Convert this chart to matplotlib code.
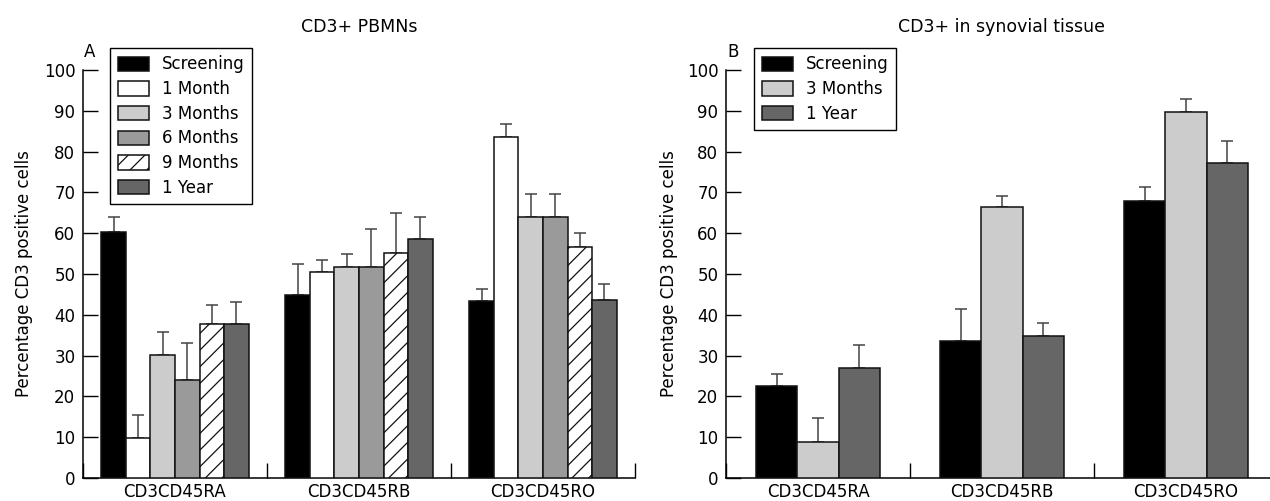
import matplotlib
matplotlib.use("Agg")
import matplotlib.pyplot as plt
import numpy as np

plt.rcParams['font.family'] = ['DejaVu Sans']

groups = ["CD3CD45RA", "CD3CD45RB", "CD3CD45RO"]

# Panel A: CD3+ PBMNs
series_a = ["Screening", "1 Month", "3 Months", "6 Months", "9 Months", "1 Year"]
screening_a = [60.4, 44.9, 43.5]
month1_a = [9.9, 50.5, 83.5]
month3_a = [30.1, 51.6, 64.0]
month6_a = [24.1, 51.6, 64.0]
month9_a = [37.7, 55.2, 56.6]
year1_a = [37.7, 58.5, 43.6]
err_screening_a = [3.5, 7.6, 2.9]
err_month1_a = [5.5, 2.9, 3.2]
err_month3_a = [5.8, 3.3, 5.5]
err_month6_a = [8.9, 9.4, 5.5]
err_month9_a = [4.6, 9.7, 3.5]
err_year1_a = [5.4, 5.5, 3.9]

# Panel B: CD3+ in synovial tissue
series_b = ["Screening", "3 Months", "1 Year"]
screening_b = [22.5, 33.7, 67.8]
month3_b = [8.9, 66.3, 89.6]
year1_b = [27.0, 34.8, 77.3]
err_screening_b = [3.1, 7.8, 3.5]
err_month3_b = [5.7, 2.7, 3.2]
err_year1_b = [5.6, 3.3, 5.2]

yticks = [0, 10, 20, 30, 40, 50, 60, 70, 80, 90, 100]

styles = {
    "Screening": dict(color="#000000", hatch=None),
    "1 Month": dict(color="#ffffff", hatch=None),
    "3 Months": dict(color="#cccccc", hatch=None),
    "6 Months": dict(color="#9a9a9a", hatch=None),
    "9 Months": dict(color="#ffffff", hatch="//"),
    "1 Year": dict(color="#666666", hatch=None),
}

W, H = 1270, 501
fig = plt.figure(figsize=(W / 100, H / 100), dpi=100)

ax_bottom = (H - 478) / H
ax_height = 408 / H
ax_a = fig.add_axes([83 / W, ax_bottom, 552 / W, ax_height])
ax_b = fig.add_axes([726 / W, ax_bottom, 552 / W, ax_height])

plt.rcParams['hatch.linewidth'] = 0.9


def draw(ax, names, vals, errs, total_width, legend_x, letter, title, title_x, ylabel_x):
    n = len(names)
    bw = total_width / n
    centers = np.arange(len(groups)) + 0.5
    handles = []
    for i, (name, v, e) in enumerate(zip(names, vals, errs)):
        xs = centers - total_width / 2 + bw * (i + 0.5)
        st = styles[name]
        b = ax.bar(xs, v, width=bw, color=st["color"], edgecolor="#111111",
                   linewidth=1.1, hatch=st["hatch"], label=name, zorder=3)
        ax.errorbar(xs, v, yerr=[np.zeros(len(v)), e], fmt="none",
                    ecolor="#444444", elinewidth=1.1, capsize=4.5,
                    capthick=1.1, zorder=2)
        handles.append(b)
    ax.set_xlim(0, 3)
    ax.set_ylim(0, 100)
    ax.set_yticks(yticks)
    ax.set_yticklabels([str(t) for t in yticks], fontsize=12)
    ax.set_xticks([0, 1, 2, 3])
    ax.set_xticklabels([])
    ax.set_xticks(centers, minor=True)
    ax.set_xticklabels(groups, minor=True, fontsize=12)
    ax.tick_params(axis="y", direction="in", length=11, width=1, pad=5.5)
    ax.tick_params(axis="x", which="major", direction="in", length=11, width=1)
    ax.tick_params(axis="x", which="minor", length=0, pad=3.5)
    for s in ["top", "right"]:
        ax.spines[s].set_visible(False)
    for s in ["left", "bottom"]:
        ax.spines[s].set_linewidth(1.1)
    leg = ax.legend(handles=handles, loc="upper left",
                    bbox_to_anchor=(legend_x, 1.054), borderaxespad=0,
                    fontsize=12, frameon=True, fancybox=False,
                    edgecolor="#000000", framealpha=1, borderpad=0.45,
                    labelspacing=0.4, handlelength=1.9, handleheight=0.95,
                    handletextpad=0.75)
    leg.get_frame().set_linewidth(1.0)
    ax.text(0.005, 104.4, letter, fontsize=12, ha="left", va="center",
            clip_on=False)
    fig.text(title_x / W, 1 - 27 / H, title, fontsize=12.5, ha="center", va="center")
    fig.text(ylabel_x / W, 1 - 274 / H, "Percentage CD3 positive cells",
             fontsize=12, rotation=90, ha="center", va="center")


draw(ax_a, series_a,
     [screening_a, month1_a, month3_a, month6_a, month9_a, year1_a],
     [err_screening_a, err_month1_a, err_month3_a, err_month6_a, err_month9_a, err_year1_a],
     0.8, 0.049, "A", "CD3+ PBMNs", 359, 24)
draw(ax_b, series_b,
     [screening_b, month3_b, year1_b],
     [err_screening_b, err_month3_b, err_year1_b],
     0.67, 0.051, "B", "CD3+ in synovial tissue", 1002, 669)

fig.savefig("out.png", dpi=100)
